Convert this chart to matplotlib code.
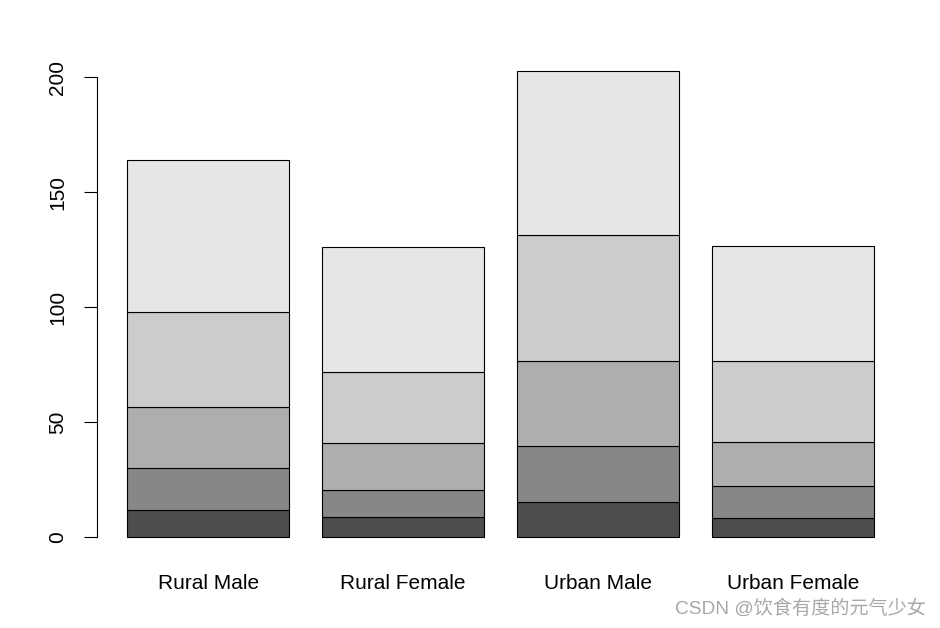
import matplotlib.pyplot as plt
import numpy as np

plt.rcParams['font.family'] = ['Liberation Sans', 'Noto Sans CJK SC', 'DejaVu Sans']

# VADeaths style data, age groups stacked bottom to top
groups = ["Rural Male", "Rural Female", "Urban Male", "Urban Female"]
ages = ["50-54", "55-59", "60-64", "65-69", "70-74"]
age_50_54 = [11.7, 8.7, 15.4, 8.4]
age_55_59 = [18.1, 11.7, 24.3, 13.6]
age_60_64 = [26.9, 20.3, 37.0, 19.3]
age_65_69 = [41.0, 30.9, 54.6, 35.1]
age_70_74 = [66.0, 54.3, 71.1, 50.0]
colors = ["#4D4D4D", "#878787", "#AEAEAE", "#CCCCCC", "#E6E6E6"]

series = [age_50_54, age_55_59, age_60_64, age_65_69, age_70_74]

fig = plt.figure(figsize=(9.4, 6.28), dpi=100)
ax = fig.add_axes([0.1032, 0.1153, 0.8583, 0.8005])

# bar centres like R barplot: width 1, space 0.2
x = 0.2 + np.arange(len(groups)) * 1.2 + 0.5
bottom = np.zeros(len(groups))
for vals, c in zip(series, colors):
    ax.bar(x, vals, width=1.0, bottom=bottom, color=c, edgecolor="black", linewidth=0.8)
    bottom += np.array(vals)

top = bottom.max()
ax.set_xlim(0.2 - 0.04 * 4.6, 4.8 + 0.04 * 4.6)
ax.set_ylim(-0.04 * top, top * 1.04)

for s in ["top", "right", "bottom"]:
    ax.spines[s].set_visible(False)
ax.spines["left"].set_bounds(0, 200)
ax.spines["left"].set_linewidth(0.8)

ax.set_yticks([0, 50, 100, 150, 200])
ax.tick_params(axis="y", length=9.5, width=0.8, labelsize=15, pad=12)
for lab in ax.get_yticklabels():
    lab.set_rotation(90)
    lab.set_va("center")

ax.set_xticks(x)
ax.set_xticklabels(groups)
ax.tick_params(axis="x", length=0, labelsize=15, pad=13.5)

fig.text(0.985, 0.016, "CSDN @饮食有度的元气少女", ha="right", va="bottom",
         fontsize=13.8, color="#A8A8A8")

fig.savefig("out.png", dpi=100)
